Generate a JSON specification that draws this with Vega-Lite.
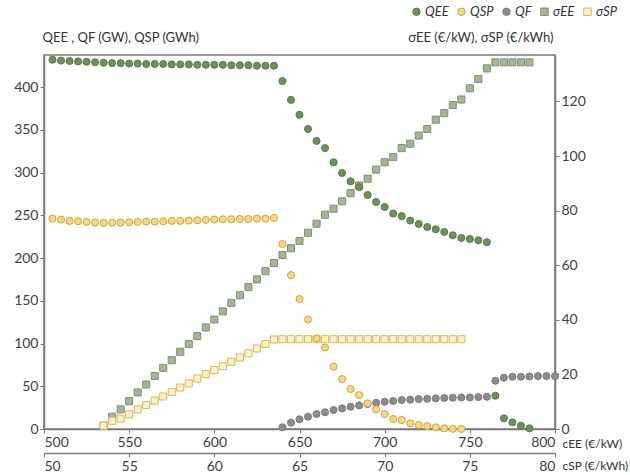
{
  "$schema": "https://vega.github.io/schema/vega-lite/v6.json",
  "width": 511,
  "height": 374,
  "autosize": {"type": "none"},
  "padding": {"left": 44, "top": 55, "right": 75, "bottom": 46},
  "background": "white",
  "config": {
    "font": "Lato",
    "view": {"stroke": "#7a7a7a", "strokeWidth": 1.5},
    "axis": {"labelFont": "Lato", "labelFontSize": 14, "labelColor": "#404040", "titleFont": "Lato", "titleFontSize": 13, "titleFontWeight": "normal", "titleColor": "#333333", "domainColor": "#7a7a7a", "domainWidth": 1.5, "tickColor": "#7a7a7a", "tickSize": 4, "labelPadding": 2, "grid": false},
    "legend": {"labelFont": "Lato", "labelFontSize": 13, "labelColor": "#333333"}
  },
  "datasets": {
    "S": [
      {"c":535,"s":"σEE","v":1.2},{"c":540,"s":"σEE","v":4.5},{"c":545,"s":"σEE","v":7.2},{"c":550,"s":"σEE","v":10.2},{"c":555,"s":"σEE","v":13.4},{"c":560,"s":"σEE","v":16.3},{"c":565,"s":"σEE","v":19.4},{"c":570,"s":"σEE","v":22.4},{"c":575,"s":"σEE","v":25.2},{"c":580,"s":"σEE","v":28.3},{"c":585,"s":"σEE","v":31.1},{"c":590,"s":"σEE","v":34.0},{"c":595,"s":"σEE","v":37.2},{"c":600,"s":"σEE","v":40.1},{"c":605,"s":"σEE","v":43.1},{"c":610,"s":"σEE","v":46.2},{"c":615,"s":"σEE","v":49.0},{"c":620,"s":"σEE","v":52.0},{"c":625,"s":"σEE","v":54.8},{"c":630,"s":"σEE","v":57.8},{"c":635,"s":"σEE","v":60.8},{"c":640,"s":"σEE","v":63.7},{"c":645,"s":"σEE","v":66.2},{"c":650,"s":"σEE","v":68.9},{"c":655,"s":"σEE","v":71.9},{"c":660,"s":"σEE","v":75.2},{"c":665,"s":"σEE","v":78.5},{"c":670,"s":"σEE","v":80.7},{"c":675,"s":"σEE","v":83.4},{"c":680,"s":"σEE","v":86.4},{"c":685,"s":"σEE","v":89.2},{"c":690,"s":"σEE","v":91.7},{"c":695,"s":"σEE","v":95.0},{"c":700,"s":"σEE","v":97.7},{"c":705,"s":"σEE","v":99.6},{"c":710,"s":"σEE","v":102.9},{"c":715,"s":"σEE","v":104.5},{"c":720,"s":"σEE","v":107.5},{"c":725,"s":"σEE","v":109.9},{"c":730,"s":"σEE","v":113.3},{"c":735,"s":"σEE","v":115.7},{"c":740,"s":"σEE","v":118.7},{"c":745,"s":"σEE","v":120.7},{"c":750,"s":"σEE","v":124.8},{"c":755,"s":"σEE","v":128.2},{"c":760,"s":"σEE","v":132.1},{"c":765,"s":"σEE","v":134.3},{"c":770,"s":"σEE","v":134.3},{"c":775,"s":"σEE","v":134.3},{"c":780,"s":"σEE","v":134.3},{"c":785,"s":"σEE","v":134.3},
      {"c":535,"s":"σSP","v":1.2},{"c":540,"s":"σSP","v":3.0},{"c":545,"s":"σSP","v":3.8},{"c":550,"s":"σSP","v":5.4},{"c":555,"s":"σSP","v":7.2},{"c":560,"s":"σSP","v":8.8},{"c":565,"s":"σSP","v":10.4},{"c":570,"s":"σSP","v":11.9},{"c":575,"s":"σSP","v":13.6},{"c":580,"s":"σSP","v":15.2},{"c":585,"s":"σSP","v":16.7},{"c":590,"s":"σSP","v":18.5},{"c":595,"s":"σSP","v":20.1},{"c":600,"s":"σSP","v":21.6},{"c":605,"s":"σSP","v":23.0},{"c":610,"s":"σSP","v":24.6},{"c":615,"s":"σSP","v":26.2},{"c":620,"s":"σSP","v":27.7},{"c":625,"s":"σSP","v":29.5},{"c":630,"s":"σSP","v":31.1},{"c":635,"s":"σSP","v":32.8},{"c":640,"s":"σSP","v":32.9},{"c":645,"s":"σSP","v":32.9},{"c":650,"s":"σSP","v":32.9},{"c":655,"s":"σSP","v":32.9},{"c":660,"s":"σSP","v":32.9},{"c":665,"s":"σSP","v":32.9},{"c":670,"s":"σSP","v":32.9},{"c":675,"s":"σSP","v":32.9},{"c":680,"s":"σSP","v":32.9},{"c":685,"s":"σSP","v":32.9},{"c":690,"s":"σSP","v":32.9},{"c":695,"s":"σSP","v":32.9},{"c":700,"s":"σSP","v":32.9},{"c":705,"s":"σSP","v":32.9},{"c":710,"s":"σSP","v":32.9},{"c":715,"s":"σSP","v":32.9},{"c":720,"s":"σSP","v":32.9},{"c":725,"s":"σSP","v":32.9},{"c":730,"s":"σSP","v":32.9},{"c":735,"s":"σSP","v":32.9},{"c":740,"s":"σSP","v":32.9},{"c":745,"s":"σSP","v":32.9}
    ],
    "Q": [
      {"c":640,"s":"QF","v":2.0},{"c":645,"s":"QF","v":7.4},{"c":650,"s":"QF","v":11.3},{"c":655,"s":"QF","v":14.4},{"c":660,"s":"QF","v":17.5},{"c":665,"s":"QF","v":19.5},{"c":670,"s":"QF","v":22.2},{"c":675,"s":"QF","v":24.1},{"c":680,"s":"QF","v":26.0},{"c":685,"s":"QF","v":27.6},{"c":690,"s":"QF","v":29.2},{"c":695,"s":"QF","v":30.7},{"c":700,"s":"QF","v":31.9},{"c":705,"s":"QF","v":32.7},{"c":710,"s":"QF","v":33.9},{"c":715,"s":"QF","v":34.3},{"c":720,"s":"QF","v":35.0},{"c":725,"s":"QF","v":35.4},{"c":730,"s":"QF","v":35.8},{"c":735,"s":"QF","v":36.2},{"c":740,"s":"QF","v":36.6},{"c":745,"s":"QF","v":36.9},{"c":750,"s":"QF","v":36.9},{"c":755,"s":"QF","v":37.3},{"c":760,"s":"QF","v":37.7},{"c":765,"s":"QF","v":56.4},{"c":770,"s":"QF","v":60.0},{"c":775,"s":"QF","v":61.1},{"c":780,"s":"QF","v":61.1},{"c":785,"s":"QF","v":61.5},{"c":790,"s":"QF","v":61.9},{"c":795,"s":"QF","v":61.9},{"c":800,"s":"QF","v":61.9},
      {"c":505,"s":"QSP","v":246.1},{"c":510,"s":"QSP","v":245.0},{"c":515,"s":"QSP","v":243.4},{"c":520,"s":"QSP","v":243.0},{"c":525,"s":"QSP","v":242.2},{"c":530,"s":"QSP","v":241.4},{"c":535,"s":"QSP","v":241.0},{"c":540,"s":"QSP","v":241.4},{"c":545,"s":"QSP","v":241.4},{"c":550,"s":"QSP","v":241.8},{"c":555,"s":"QSP","v":242.2},{"c":560,"s":"QSP","v":242.6},{"c":565,"s":"QSP","v":242.6},{"c":570,"s":"QSP","v":243.0},{"c":575,"s":"QSP","v":243.4},{"c":580,"s":"QSP","v":243.4},{"c":585,"s":"QSP","v":243.8},{"c":590,"s":"QSP","v":244.2},{"c":595,"s":"QSP","v":244.6},{"c":600,"s":"QSP","v":245.0},{"c":605,"s":"QSP","v":245.3},{"c":610,"s":"QSP","v":245.3},{"c":615,"s":"QSP","v":245.7},{"c":620,"s":"QSP","v":245.7},{"c":625,"s":"QSP","v":246.1},{"c":630,"s":"QSP","v":246.1},{"c":635,"s":"QSP","v":246.9},{"c":640,"s":"QSP","v":216.5},{"c":645,"s":"QSP","v":180.0},{"c":650,"s":"QSP","v":152.0},{"c":655,"s":"QSP","v":128.0},{"c":660,"s":"QSP","v":106.0},{"c":665,"s":"QSP","v":95.4},{"c":670,"s":"QSP","v":72.8},{"c":675,"s":"QSP","v":58.4},{"c":680,"s":"QSP","v":46.7},{"c":685,"s":"QSP","v":39.7},{"c":690,"s":"QSP","v":30.0},{"c":695,"s":"QSP","v":23.0},{"c":700,"s":"QSP","v":17.5},{"c":705,"s":"QSP","v":11.7},{"c":710,"s":"QSP","v":10.5},{"c":715,"s":"QSP","v":6.6},{"c":720,"s":"QSP","v":4.7},{"c":725,"s":"QSP","v":3.5},{"c":730,"s":"QSP","v":2.0},{"c":735,"s":"QSP","v":0.8},{"c":740,"s":"QSP","v":0.2},{"c":745,"s":"QSP","v":0.0},
      {"c":505,"s":"QEE","v":432.0},{"c":510,"s":"QEE","v":431.0},{"c":515,"s":"QEE","v":430.5},{"c":520,"s":"QEE","v":430.0},{"c":525,"s":"QEE","v":429.5},{"c":530,"s":"QEE","v":429.0},{"c":535,"s":"QEE","v":428.5},{"c":540,"s":"QEE","v":428.0},{"c":545,"s":"QEE","v":428.0},{"c":550,"s":"QEE","v":427.5},{"c":555,"s":"QEE","v":427.5},{"c":560,"s":"QEE","v":427.0},{"c":565,"s":"QEE","v":427.0},{"c":570,"s":"QEE","v":427.0},{"c":575,"s":"QEE","v":426.5},{"c":580,"s":"QEE","v":426.5},{"c":585,"s":"QEE","v":426.5},{"c":590,"s":"QEE","v":426.0},{"c":595,"s":"QEE","v":426.0},{"c":600,"s":"QEE","v":426.0},{"c":605,"s":"QEE","v":426.0},{"c":610,"s":"QEE","v":425.5},{"c":615,"s":"QEE","v":425.5},{"c":620,"s":"QEE","v":425.5},{"c":625,"s":"QEE","v":425.0},{"c":630,"s":"QEE","v":425.0},{"c":635,"s":"QEE","v":425.0},{"c":640,"s":"QEE","v":407.0},{"c":645,"s":"QEE","v":385.0},{"c":650,"s":"QEE","v":367.6},{"c":655,"s":"QEE","v":351.0},{"c":660,"s":"QEE","v":337.0},{"c":665,"s":"QEE","v":328.6},{"c":670,"s":"QEE","v":312.0},{"c":675,"s":"QEE","v":299.5},{"c":680,"s":"QEE","v":289.7},{"c":685,"s":"QEE","v":283.0},{"c":690,"s":"QEE","v":273.7},{"c":695,"s":"QEE","v":265.6},{"c":700,"s":"QEE","v":259.7},{"c":705,"s":"QEE","v":252.0},{"c":710,"s":"QEE","v":249.0},{"c":715,"s":"QEE","v":243.8},{"c":720,"s":"QEE","v":239.8},{"c":725,"s":"QEE","v":236.3},{"c":730,"s":"QEE","v":233.6},{"c":735,"s":"QEE","v":230.5},{"c":740,"s":"QEE","v":226.6},{"c":745,"s":"QEE","v":223.5},{"c":750,"s":"QEE","v":222.3},{"c":755,"s":"QEE","v":220.8},{"c":760,"s":"QEE","v":218.5},{"c":765,"s":"QEE","v":38.9},{"c":770,"s":"QEE","v":12.5},{"c":775,"s":"QEE","v":7.8},{"c":780,"s":"QEE","v":3.9},{"c":785,"s":"QEE","v":0.8}
    ],
    "CSP": [{"csp": 50}, {"csp": 80}]
  },
  "layer": [
    {
      "data": {"name": "S"},
      "mark": {"type": "point", "filled": true, "size": 50, "strokeWidth": 1, "opacity": 1, "clip": false},
      "encoding": {
        "x": {"field": "c", "type": "quantitative", "scale": {"domain": [500, 800], "nice": false, "zero": false}, "axis": null},
        "y": {"field": "v", "type": "quantitative", "scale": {"domain": [0, 137], "nice": false, "zero": true},
          "axis": {"orient": "right", "values": [0, 20, 40, 60, 80, 100, 120], "title": "σEE (€/kW), σSP (€/kWh)", "titleAngle": 0, "titleAlign": "right", "titleBaseline": "middle", "titleX": -2, "titleY": -18}},
        "color": {"field": "s", "type": "nominal",
          "scale": {"domain": ["QEE", "QSP", "QF", "σEE", "σSP"], "range": ["#6e9159", "#f5d97e", "#8c8c8c", "#a5b398", "#fcf1c8"]},
          "legend": {"title": null, "orient": "none", "legendX": 366, "legendY": -50, "direction": "horizontal", "columns": 5, "symbolSize": 55, "symbolStrokeWidth": 1, "symbolStrokeColor": "#8a8a6a", "labelFontStyle": "italic", "labelOffset": 2, "columnPadding": 6}},
        "shape": {"field": "s", "type": "nominal",
          "scale": {"domain": ["QEE", "QSP", "QF", "σEE", "σSP"], "range": ["circle", "circle", "circle", "square", "square"]},
          "legend": {"title": null, "orient": "none", "legendX": 366, "legendY": -50, "direction": "horizontal", "columns": 5, "symbolSize": 55, "labelFontStyle": "italic", "labelOffset": 2, "columnPadding": 6}},
        "stroke": {"field": "s", "type": "nominal",
          "scale": {"domain": ["QEE", "QSP", "QF", "σEE", "σSP"], "range": ["#587a46", "#c9a641", "#7a7a7a", "#7d9470", "#d6b85a"]},
          "legend": null}
      }
    },
    {
      "data": {"name": "Q"},
      "mark": {"type": "point", "filled": true, "size": 50, "strokeWidth": 1, "opacity": 1, "clip": false},
      "encoding": {
        "x": {"field": "c", "type": "quantitative", "scale": {"domain": [500, 800], "nice": false, "zero": false},
          "axis": {"orient": "bottom", "values": [500, 550, 600, 650, 700, 750, 800], "labelFlush": true, "title": "cEE (€/kW)", "titleFontSize": 12, "titleAngle": 0, "titleAlign": "left", "titleBaseline": "middle", "titleX": 518, "titleY": 14}},
        "y": {"field": "v", "type": "quantitative", "scale": {"domain": [0, 437.5], "nice": false, "zero": true},
          "axis": {"orient": "left", "values": [0, 50, 100, 150, 200, 250, 300, 350, 400], "title": "QEE , QF (GW), QSP (GWh)", "titleAngle": 0, "titleAlign": "left", "titleBaseline": "middle", "titleX": -2, "titleY": -18}},
        "color": {"field": "s", "type": "nominal",
          "scale": {"domain": ["QEE", "QSP", "QF", "σEE", "σSP"], "range": ["#6e9159", "#f5d97e", "#8c8c8c", "#a5b398", "#fcf1c8"]}},
        "shape": {"field": "s", "type": "nominal",
          "scale": {"domain": ["QEE", "QSP", "QF", "σEE", "σSP"], "range": ["circle", "circle", "circle", "square", "square"]}},
        "stroke": {"field": "s", "type": "nominal",
          "scale": {"domain": ["QEE", "QSP", "QF", "σEE", "σSP"], "range": ["#587a46", "#c9a641", "#7a7a7a", "#7d9470", "#d6b85a"]},
          "legend": null}
      }
    },
    {
      "data": {"name": "CSP"},
      "mark": {"type": "point", "opacity": 0},
      "encoding": {
        "x": {"field": "csp", "type": "quantitative", "scale": {"domain": [50, 80], "nice": false, "zero": false},
          "axis": {"orient": "bottom", "offset": 24, "values": [50, 55, 60, 65, 70, 75, 80], "labelFlush": true, "title": "cSP (€/kWh)", "titleFontSize": 12, "titleAngle": 0, "titleAlign": "left", "titleBaseline": "middle", "titleX": 518, "titleY": 12}}
      }
    }
  ],
  "resolve": {"scale": {"x": "independent", "y": "independent"}, "axis": {"x": "independent", "y": "independent"}}
}
